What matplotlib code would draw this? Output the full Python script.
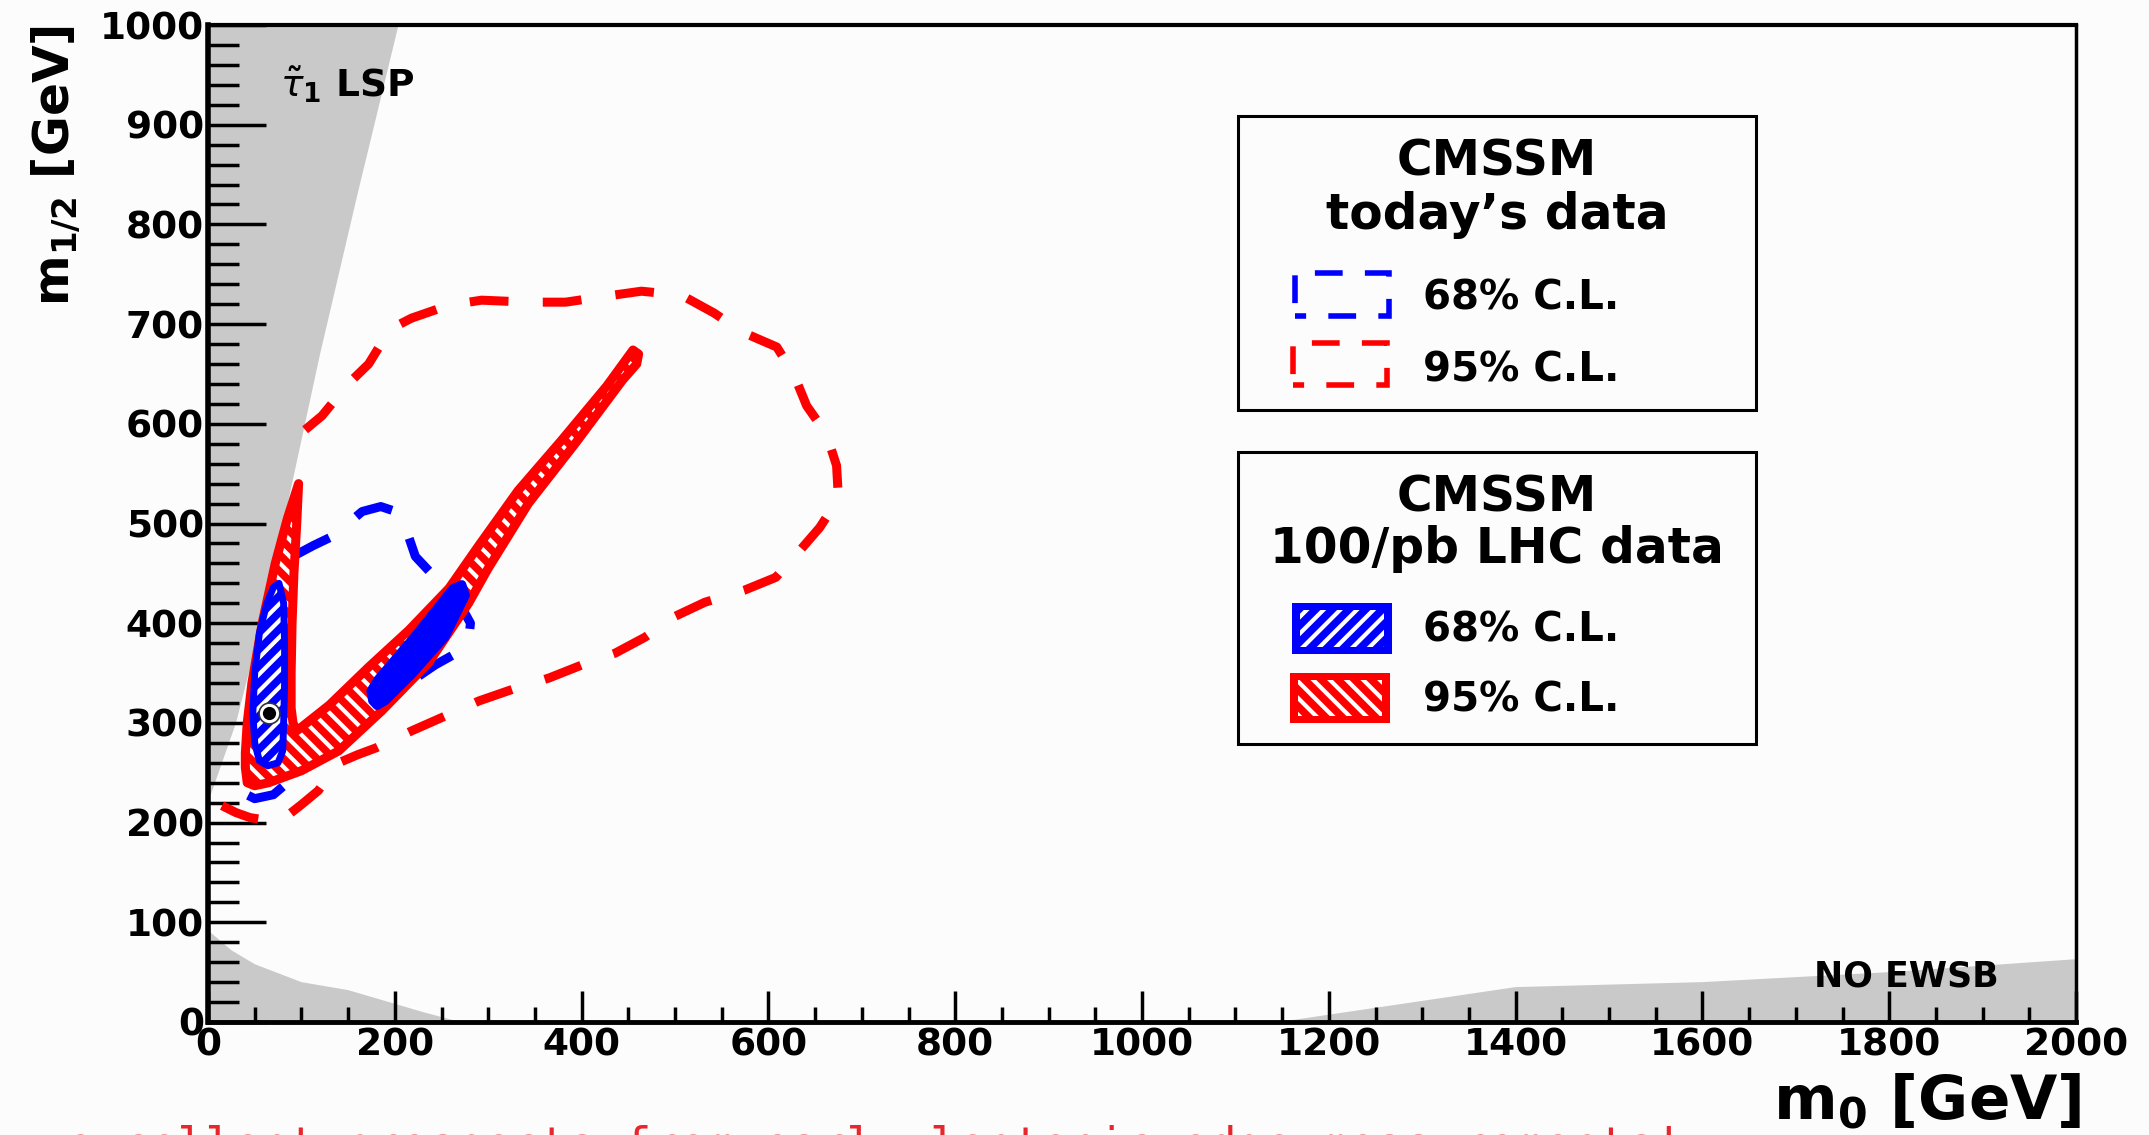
import matplotlib
matplotlib.use("Agg")
import matplotlib.pyplot as plt
from matplotlib.patches import Polygon, Rectangle
import numpy as np

# ---------------- data ----------------
x_ticks = [0, 200, 400, 600, 800, 1000, 1200, 1400, 1600, 1800, 2000]
y_ticks = [0, 100, 200, 300, 400, 500, 600, 700, 800, 900, 1000]

# excluded regions (grey)
stau_x = [0, 0, 30, 60, 90, 120, 160, 204]
stau_y = [1000, 220, 300, 410, 540, 670, 830, 1000]
lowleft_x = [0, 0, 25, 50, 100, 150, 190, 230, 270]
lowleft_y = [0, 92, 72, 58, 40, 32, 21, 10, 0]
noewsb_x = [1147, 1400, 1600, 1800, 2000, 2000]
noewsb_y = [0, 35, 40, 50, 63, 0]

# today's data 95% C.L. (red dashed)
red95_today_x = [15, 30, 45, 65, 85, 100, 118, 140, 160, 180, 218, 247, 290, 327, 365, 400,
                 436, 468, 498, 532, 574, 608, 631, 655, 675, 673, 662, 641, 627, 609, 572,
                 542, 507, 464, 426, 383, 343, 293, 258, 218, 195, 172, 150, 122, 104]
red95_today_y = [217, 210, 205, 202, 207, 218, 232, 260, 268, 275, 292, 304, 322, 334, 345, 358,
                 370, 386, 406, 421, 433, 446, 470, 496, 525, 558, 590, 618, 650, 677, 692,
                 711, 729, 733, 728, 722, 722, 724, 719, 706, 695, 660, 640, 608, 594]

# today's data 68% C.L. (blue dashed)
blue68_today_x = [93, 113, 133, 150, 165, 185, 201, 210, 222, 250, 268, 281, 279, 266, 243,
                  218, 190, 150, 120, 100, 85, 70, 50, 33, 20]
blue68_today_y = [468, 478, 487, 500, 512, 517, 512, 500, 467, 439, 422, 400, 383, 370, 358,
                  342, 338, 305, 280, 262, 240, 228, 224, 232, 250]

# 100/pb LHC 95% C.L. (red hatched)
red95_lhc_x = [97, 95, 92, 90, 89, 89, 91, 95, 130, 172, 215, 258, 290, 332, 379, 427, 448,
               455, 461, 459, 444, 393, 343, 300, 279, 236, 186, 140, 100, 65, 50,
               42, 40, 40, 42, 47, 58, 72, 85]
red95_lhc_y = [540, 500, 450, 400, 350, 315, 300, 292, 318, 356, 393, 435, 478, 533, 584, 638, 665,
               674, 670, 660, 644, 580, 520, 455, 420, 360, 312, 272, 252, 240, 237,
               240, 255, 270, 300, 340, 400, 460, 505]

# 100/pb LHC 68% C.L. (blue hatched) - two islands
blue68_lhc_a_x = [76, 81, 82, 82, 81, 80, 75, 64, 55, 50, 48, 50, 55, 63, 70]
blue68_lhc_a_y = [440, 420, 380, 340, 300, 272, 260, 257, 262, 280, 310, 350, 390, 420, 436]
blue68_lhc_b_x = [176, 174, 182, 222, 262, 272, 276, 254, 218, 190, 181]
blue68_lhc_b_y = [322, 332, 344, 388, 435, 439, 428, 386, 348, 322, 317]

best_fit_x = [65]
best_fit_y = [310]

# ---------------- style ----------------
plt.rcParams["font.family"] = ["DejaVu Sans"]
plt.rcParams["mathtext.fontset"] = "dejavusans"
plt.rcParams["hatch.linewidth"] = 3.0

W, H = 2149, 1135
BG = "#fbfcfb"
GRAY = "#c9c9c9"
RED = "#ff0000"
BLUE = "#0000ff"

fig = plt.figure(figsize=(W / 100, H / 100), dpi=100)
fig.patch.set_facecolor(BG)

def fx(px):
    return px / W

def fy(py):
    return 1 - py / H

L, R, T, B = 208, 2076, 25, 1022
ax = fig.add_axes([L / W, 1 - B / H, (R - L) / W, (B - T) / H])
ax.set_facecolor(BG)
ax.set_xlim(0, 2000)
ax.set_ylim(0, 1000)

# grey excluded regions
ax.fill(stau_x, stau_y, color=GRAY, lw=0, zorder=1)
ax.fill(lowleft_x, lowleft_y, color=GRAY, lw=0, zorder=1)
ax.fill(noewsb_x, noewsb_y, color=GRAY, lw=0, zorder=1)

# dashed contours (today's data)
dash = (0, (4.3, 3.8))
ax.plot(blue68_today_x, blue68_today_y, color=BLUE, lw=6.5, linestyle=dash,
        dash_capstyle="butt", dash_joinstyle="round", zorder=2)
ax.plot(red95_today_x, red95_today_y, color=RED, lw=6.5, linestyle=dash,
        dash_capstyle="butt", dash_joinstyle="round", zorder=2)

def hatched_region(xs, ys, color, hatch, lw, z):
    pts = list(zip(xs, ys))
    ax.add_patch(Polygon(pts, closed=True, facecolor=color, edgecolor="none", lw=0, zorder=z))
    if hatch:
        ax.add_patch(Polygon(pts, closed=True, facecolor="none", edgecolor="white", lw=0,
                             hatch=hatch, zorder=z + 0.1))
    ax.add_patch(Polygon(pts, closed=True, facecolor="none", edgecolor=color, lw=lw,
                         joinstyle="round", zorder=z + 0.2))

hatched_region(red95_lhc_x, red95_lhc_y, RED, "\\\\", 6.5, 3)
hatched_region(blue68_lhc_a_x, blue68_lhc_a_y, BLUE, "//", 5.0, 4)
hatched_region(blue68_lhc_b_x, blue68_lhc_b_y, BLUE, None, 6.0, 4)

# best fit point
ax.plot(best_fit_x, best_fit_y, "o", ms=15, mfc="white", mec="#333333", mew=1.2, zorder=6)
ax.plot(best_fit_x, best_fit_y, "o", ms=8.5, color="black", zorder=7)

# region labels
ax.text(77, 940, r"$\tilde{\tau}_{\mathbf{1}}$ LSP", fontsize=27, fontweight="bold",
        ha="left", va="center", zorder=8)
ax.text(1818, 46, "NO EWSB", fontsize=25, fontweight="bold", ha="center", va="center", zorder=8)

# ticks
ax.set_xticks(x_ticks)
ax.set_xticklabels([str(v) for v in x_ticks])
ax.set_xticks(np.arange(0, 2001, 50), minor=True)
ax.set_yticks(y_ticks)
ax.set_yticklabels([str(v) for v in y_ticks])
ax.set_yticks(np.arange(0, 1001, 20), minor=True)
ax.tick_params(axis="x", which="major", direction="in", length=22, width=2.5, pad=4,
               labelsize=27, top=False)
ax.tick_params(axis="x", which="minor", direction="in", length=11, width=2.5, top=False)
ax.tick_params(axis="y", which="major", direction="in", length=42, width=2.5, pad=3,
               labelsize=27, right=False)
ax.tick_params(axis="y", which="minor", direction="in", length=22, width=2.5, right=False)
for lab in ax.get_xticklabels() + ax.get_yticklabels():
    lab.set_fontweight("bold")

ax.spines["left"].set_linewidth(4.0)
ax.spines["bottom"].set_linewidth(3.5)
ax.spines["top"].set_linewidth(3.0)
ax.spines["right"].set_linewidth(2.5)

# axis titles
fig.text(fx(2081), fy(1120), r"$\mathbf{m_{0}}$ [GeV]", fontsize=44, fontweight="bold",
         ha="right", va="baseline")
fig.text(fx(56), fy(25), r"$\mathbf{m_{1/2}}$ [GeV]", fontsize=35, fontweight="bold",
         rotation=90, ha="center", va="top")

# legend boxes
def fig_rect(x0, y0, x1, y1, **kw):
    r = Rectangle((fx(x0), fy(y1)), fx(x1) - fx(x0), (y1 - y0) / H,
                  transform=fig.transFigure, **kw)
    fig.add_artist(r)
    return r

fig_rect(1238, 116, 1756, 410, facecolor=BG, edgecolor="black", lw=2.2, zorder=1)
fig_rect(1238, 452, 1756, 744, facecolor=BG, edgecolor="black", lw=2.2, zorder=1)

cx = fx(1497)
fig.text(cx, fy(176), "CMSSM", fontsize=35, fontweight="bold", ha="center", va="baseline")
fig.text(cx, fy(229), "today\u2019s data", fontsize=35, fontweight="bold", ha="center", va="baseline")
fig.text(cx, fy(511), "CMSSM", fontsize=35, fontweight="bold", ha="center", va="baseline")
fig.text(cx, fy(563), "100/pb LHC data", fontsize=35, fontweight="bold", ha="center", va="baseline")

fig_rect(1295, 273, 1389, 316, facecolor="none", edgecolor=BLUE, lw=4.0,
         linestyle=(3, (5, 4)), zorder=2)
fig_rect(1293, 343, 1387, 385, facecolor="none", edgecolor=RED, lw=4.0,
         linestyle=(3, (5, 4)), zorder=2)

def fig_hatched(x0, y0, x1, y1, color, hatch):
    fig_rect(x0, y0, x1, y1, facecolor=color, edgecolor="none", lw=0, zorder=2)
    fig_rect(x0 + 8, y0 + 7, x1 - 8, y1 - 7, facecolor="none", edgecolor="white", lw=0,
             hatch=hatch, zorder=2.1)

fig_hatched(1292, 603, 1392, 654, BLUE, "//")
fig_hatched(1290, 673, 1390, 723, RED, "\\\\")

for yb, lab in [(310, "68% C.L."), (381, "95% C.L."), (642, "68% C.L."), (712, "95% C.L.")]:
    fig.text(fx(1423), fy(yb), lab, fontsize=29, fontweight="bold", ha="left", va="baseline")

# cut-off caption at the bottom of the slide
fig.text(fx(28), fy(1160), "\u2192", fontsize=33, color="#444444", family="DejaVu Sans Mono",
         ha="left", va="baseline")
fig.text(fx(66), fy(1160), "excellent prospects from early leptonic edge measurements!",
         fontsize=33.4, color="#e8262d", family="DejaVu Sans Mono", ha="left", va="baseline")

fig.savefig("out.png", dpi=100, facecolor=BG)
